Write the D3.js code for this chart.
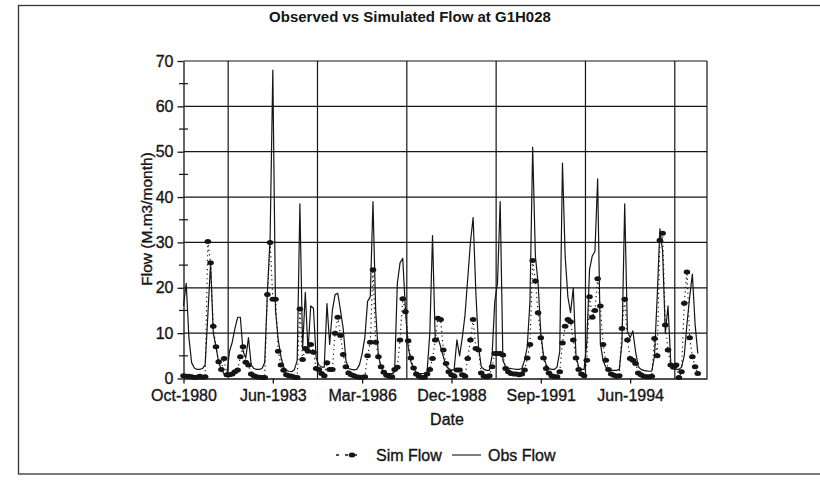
<!DOCTYPE html>
<html><head><meta charset="utf-8">
<script src="https://cdn.jsdelivr.net/npm/d3@7"></script>
<style>
html,body{margin:0;padding:0;background:#fff;}
svg{display:block;font-family:"Liberation Sans",Arial,Helvetica,sans-serif;}
</style></head><body>
<svg id="chart" width="820" height="484"></svg>
<script>
// Monthly flows, one value per month starting October 1980 (M.m3/month)
const tickLabels = ["Oct-1980", "Jun-1983", "Mar-1986", "Dec-1988", "Sep-1991", "Jun-1994"];
const tickMonths = [0, 33, 66, 99, 132, 165];
const gridMonths = [16.5, 49.5, 82.5, 115.5, 148.5, 181.5];
const yTicks = [0, 10, 20, 30, 40, 50, 60, 70];
const yMinorTicks = [5, 15, 25, 35, 45, 55, 65];

const obsFlow = [
  16, 21, 9, 3.5, 2.3, 2, 2, 2.2, 3, 14, 25.5, 10,
  7, 3.5, 2, 1, 0.8, 6, 8, 11, 13.5, 13.5, 6, 4.5,
  9, 3, 2.2, 2, 2, 2.2, 3.5, 19, 31, 68, 15, 8.5,
  4.8, 2.5, 1.8, 1.6, 1.5, 2, 4, 38.5, 6.5, 19, 6, 16,
  15.5, 4.5, 3, 2.5, 2.5, 16.5, 7.5, 15, 18.5, 18.8, 15, 11,
  4, 2.2, 2, 1.9, 2, 3, 5.5, 9, 17, 18, 39, 15,
  5, 2.5, 1.3, 1.1, 1.1, 1.1, 1.5, 21, 25.5, 26.5, 15, 7,
  3.7, 2.2, 1.3, 1.1, 1.1, 1.1, 1.5, 10, 31.5, 8.5, 9, 7,
  4.8, 2.8, 2.2, 1.8, 2, 8.5, 5, 9, 14, 22, 30, 35.5,
  19, 7, 2.6, 2, 1.8, 1.8, 5, 17, 21, 39, 4, 2.6,
  2.3, 2.2, 2.1, 2, 2, 2.2, 4, 7, 17, 51, 27, 21,
  10, 5, 3, 2.2, 2, 2, 2.5, 6, 47.5, 27, 18, 14.5,
  20, 5, 2.5, 2, 2, 8, 24, 27, 28, 44, 7.8, 4,
  2.5, 2, 1.8, 1.8, 1.8, 2, 8, 38.5, 10.5, 9, 10.5, 6,
  2.6, 2, 1.8, 1.7, 1.6, 1.6, 5, 18, 33, 28, 10, 16,
  3.5, 2.5, 2, 2, 2.5, 5, 12, 18, 23, 12, 5.5
];

const simFlow = [
  0.6, 0.5, 0.5, 0.4, 0.2, 0.3, 0.5, 0.3, 0.4, 30.2, 25.5, 11.5,
  7, 3.7, 2, 4.4, 0.8, 0.8, 1, 1.5, 1.9, 4.8, 7, 3.6,
  3, 1, 0.6, 0.4, 0.3, 0.2, 0.2, 18.5, 30, 17.5, 17.5, 6,
  3, 1.8, 0.8, 0.6, 0.5, 0.3, 0.2, 15.3, 4.2, 6.6, 6, 7.5,
  5.8, 2.2, 2, 1.1, 0.6, 3.5, 2, 2, 10, 13.5, 9.5, 5.3,
  2.6, 1.2, 0.8, 0.6, 0.4, 0.3, 0.3, 0.4, 5, 8, 24, 8,
  4.8, 2.6, 1.4, 0.7, 0.5, 0.4, 2, 2.5, 8.5, 17.6, 14.7, 8.3,
  4.5, 2.3, 1, 0.5, 0.3, 0.3, 1, 2, 4.4, 8.5, 13.3, 13,
  6.3, 3.3, 1.5, 0.8, 0.5, 1.9, 1.9, 0.8, 0.5, 4.4, 8.5, 13,
  6.6, 6.3, 1.2, 0.5, 0.4, 0.6, 2.6, 5.5, 5.5, 5.5, 5.2, 2.2,
  1.5, 1.1, 1, 1, 0.8, 1, 1.9, 4.5, 7.5, 26, 21.5, 14.5,
  9, 4.5, 2.2, 1.2, 0.6, 0.4, 0.4, 1.5, 7.8, 11.5, 13, 12.5,
  8.5, 4.5, 2, 1, 0.6, 4, 18, 13.5, 15, 22, 16, 7.5,
  4, 2, 1, 0.7, 0.5, 0.6, 11, 17.5, 8.5, 4.4, 4, 3.3,
  1.2, 0.8, 0.5, 0.4, 0.4, 0.5, 8.8, 5, 30.5, 32, 11.8, 6.3,
  3, 2.5, 3, 0.2, 1.5, 16.6, 23.5, 9, 4.8, 2.6, 1.1
];

const ink = "#151515";
const svg = d3.select("#chart");

const x = d3.scaleLinear().domain([0, 193.4]).range([183.5, 707]);
const y = d3.scaleLinear().domain([0, 70]).range([378.5, 61]);

// text gets a hairline outline so it reads as heavy as the printed labels
function heavy(sel) {
  return sel.attr("fill", ink).attr("stroke", ink).attr("stroke-width", 0.35);
}

// outer chart frame
svg.append("rect")
  .attr("x", 18.5).attr("y", 5.5).attr("width", 830).attr("height", 468.5)
  .attr("fill", "none").attr("stroke", "#333").attr("stroke-width", 1.3);

// title
svg.append("text")
  .attr("x", 410).attr("y", 22).attr("text-anchor", "middle")
  .attr("font-size", 15).attr("font-weight", "bold").attr("fill", ink)
  .text("Observed vs Simulated Flow at G1H028");

// horizontal gridlines
svg.append("g").selectAll("line").data(yTicks.slice(1)).join("line")
  .attr("x1", x.range()[0]).attr("x2", x.range()[1])
  .attr("y1", d => y(d)).attr("y2", d => y(d))
  .attr("stroke", ink).attr("stroke-width", 1.2);

// vertical gridlines
svg.append("g").selectAll("line").data(gridMonths).join("line")
  .attr("x1", d => x(d)).attr("x2", d => x(d))
  .attr("y1", y(0)).attr("y2", y(70))
  .attr("stroke", ink).attr("stroke-width", 1.2);

// right edge of plot area
svg.append("line")
  .attr("x1", x.range()[1]).attr("x2", x.range()[1])
  .attr("y1", y(0)).attr("y2", y(70))
  .attr("stroke", ink).attr("stroke-width", 1.2);

// y axis
const yAxis = svg.append("g").attr("transform", `translate(${x.range()[0]},0)`)
  .call(d3.axisLeft(y).tickValues(yTicks).tickSize(6).tickSizeOuter(0).tickPadding(4));
heavy(yAxis.selectAll("text").attr("font-size", 16).attr("font-family", null));
yAxis.selectAll("line, path").attr("stroke", ink).attr("stroke-width", 1.3);

// minor y ticks crossing the axis
svg.append("g").selectAll("line").data(yMinorTicks).join("line")
  .attr("x1", x.range()[0] - 4.5).attr("x2", x.range()[0] + 4.5)
  .attr("y1", d => y(d)).attr("y2", d => y(d))
  .attr("stroke", ink).attr("stroke-width", 1.2);

// x axis
const xAxis = svg.append("g").attr("transform", `translate(0,${y(0)})`)
  .call(d3.axisBottom(x).tickValues(tickMonths).tickSize(5).tickSizeOuter(0).tickPadding(6)
    .tickFormat((d, i) => tickLabels[i]));
heavy(xAxis.selectAll("text").attr("font-size", 16).attr("font-family", null));
xAxis.selectAll("line, path").attr("stroke", ink).attr("stroke-width", 1.3);

// axis titles
heavy(svg.append("text")
  .attr("transform", "translate(152,219) rotate(-90)")
  .attr("text-anchor", "middle").attr("font-size", 15.5)
  .text("Flow (M.m3/month)"));
heavy(svg.append("text")
  .attr("x", 447).attr("y", 425).attr("text-anchor", "middle")
  .attr("font-size", 16)
  .text("Date"));

// observed flow: solid line
const line = d3.line().x((d, i) => x(i)).y(d => y(d));
svg.append("path").datum(obsFlow)
  .attr("d", line).attr("fill", "none")
  .attr("stroke", ink).attr("stroke-width", 1.2).attr("stroke-linejoin", "round");

// simulated flow: dotted line with round markers
svg.append("path").datum(simFlow)
  .attr("d", line).attr("fill", "none")
  .attr("stroke", ink).attr("stroke-width", 1.2).attr("stroke-dasharray", "1.2,3.4");
svg.append("g").selectAll("ellipse").data(simFlow).join("ellipse")
  .attr("cx", (d, i) => x(i)).attr("cy", d => y(d))
  .attr("rx", 3.3).attr("ry", 2.5).attr("fill", ink);

// legend
const legY = 455;
const leg = svg.append("g");
leg.append("line").attr("x1", 336).attr("x2", 362).attr("y1", legY).attr("y2", legY)
  .attr("stroke", ink).attr("stroke-width", 1.3).attr("stroke-dasharray", "3,6");
leg.append("ellipse").attr("cx", 352).attr("cy", legY).attr("rx", 3.3).attr("ry", 2.5).attr("fill", ink);
heavy(leg.append("text").attr("x", 376).attr("y", legY + 6).attr("font-size", 16).text("Sim Flow"));
leg.append("line").attr("x1", 452).attr("x2", 481).attr("y1", legY).attr("y2", legY)
  .attr("stroke", ink).attr("stroke-width", 1.1);
heavy(leg.append("text").attr("x", 488).attr("y", legY + 6).attr("font-size", 16).text("Obs Flow"));
</script>
</body></html>
